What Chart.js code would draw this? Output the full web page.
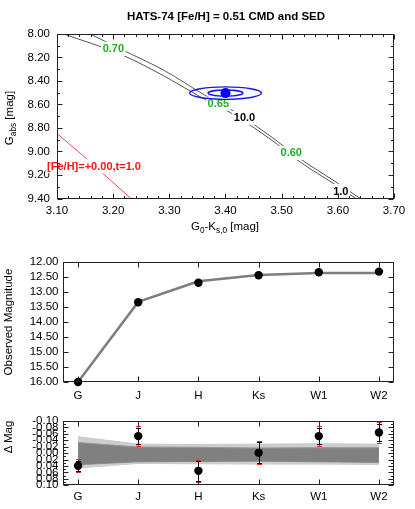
<!DOCTYPE html>
<html><head><meta charset="utf-8">
<script src="https://cdn.jsdelivr.net/npm/chart.js@4.4.1/dist/chart.umd.min.js"></script>
<style>
html,body{margin:0;padding:0;background:#fff;}
#wrap{position:relative;width:415px;height:509px;overflow:hidden;font-family:"Liberation Sans",Arial,sans-serif;color:#000;}
canvas{position:absolute;left:0;}
.t{position:absolute;white-space:nowrap;transform:translate(-50%,-50%);font-size:11.5px;line-height:1;}
.r{transform:translate(-50%,-50%) rotate(-90deg);}
sub{font-size:0.72em;vertical-align:-0.35em;line-height:0;}
</style></head><body>
<div id="wrap">
<canvas id="c1" width="415" height="240" style="top:0px"></canvas>
<canvas id="c2" width="415" height="165" style="top:240px"></canvas>
<canvas id="c3" width="415" height="104" style="top:405px"></canvas>
<div class="t" style="left:226px;top:17px;font-weight:bold;">HATS-74 [Fe/H] = 0.51 CMD and SED</div>
<div class="t" style="left:225px;top:227px;">G<sub>0</sub>-K<sub>s,0</sub> [mag]</div>
<div class="t r" style="left:10px;top:118px;">G<sub>abs</sub> [mag]</div>
<div class="t r" style="left:9px;top:322px;">Observed Magnitude</div>
<div class="t r" style="left:9px;top:437px;">Δ Mag</div>
</div>
<script>
// ---------------- DATA ----------------
// CMD panel
const cmdColorTicks = [3.10, 3.20, 3.30, 3.40, 3.50, 3.60, 3.70];
const cmdMagTicks = [8.00, 8.20, 8.40, 8.60, 8.80, 9.00, 9.20, 9.40];
const iso1Color = [3.159, 3.215, 3.292, 3.363, 3.401, 3.479, 3.533, 3.595, 3.640];
const iso1Mag   = [8.000, 8.132, 8.313, 8.520, 8.617, 8.866, 9.062, 9.255, 9.400];
const iso10Color = [3.112, 3.215, 3.292, 3.363, 3.401, 3.479, 3.533, 3.595, 3.632];
const iso10Mag   = [8.000, 8.176, 8.361, 8.556, 8.647, 8.892, 9.090, 9.281, 9.400];
const solarColor = [3.100, 3.153, 3.189, 3.232];
const solarMag   = [8.848, 9.062, 9.218, 9.400];
const starColor = [3.400];
const starMag = [8.503];
const ellipseColorHalf = [0.031, 0.064];
const ellipseMagHalf = [0.026, 0.053];
const labelTexts = ['0.70', '0.65', '10.0', '0.60', '1.0', '[Fe/H]=+0.00,t=1.0'];
const labelColor = [3.2003, 3.3872, 3.4338, 3.517, 3.6053, 3.1659];
const labelMag   = [8.126, 8.592, 8.713, 9.012, 9.336, 9.125];
const labelKinds = ['mass', 'mass', 'age', 'mass', 'age', 'solar'];

// SED panel
const filters = ['G', 'J', 'H', 'Ks', 'W1', 'W2'];
const observedMag = [16.00, 13.34, 12.69, 12.44, 12.34, 12.32];
const modelMag    = [16.00, 13.33, 12.64, 12.43, 12.37, 12.37];
const sedMagTicks = [12.00, 12.50, 13.00, 13.50, 14.00, 14.50, 15.00, 15.50, 16.00];

// Residual panel
const residual      = [0.039, -0.053, 0.055, -0.001, -0.053, -0.064];
const residErrTotal = [0.020, 0.031, 0.035, 0.036, 0.032, 0.032];
const residErrPhot  = [0.016, 0.025, 0.031, 0.033, 0.024, 0.026];
const bandOuterTop = [-0.051, -0.028, -0.027, -0.028, -0.029, -0.028];
const bandInnerTop = [-0.033, -0.019, -0.018, -0.016, -0.017, -0.017];
const bandInnerBot = [0.036, 0.027, 0.026, 0.025, 0.027, 0.029];
const bandOuterBot = [0.046, 0.032, 0.033, 0.034, 0.034, 0.035];
const residTicks = [-0.10, -0.08, -0.06, -0.04, -0.02, 0.00, 0.02, 0.04, 0.06, 0.08, 0.10];

// ---------------- HELPERS ----------------
const FONT = '"Liberation Sans", Arial, sans-serif';
Chart.defaults.font.family = FONT;
Chart.defaults.font.size = 11.5;
Chart.defaults.color = '#000';

function pts(xs, ys) { return xs.map((x, i) => ({ x: x, y: ys[i] })); }
function idxPts(ys) { return ys.map((y, i) => ({ x: i, y: y })); }
function subdiv(t, n) {
  const out = [];
  for (let i = 0; i < t.length - 1; i++)
    for (let k = 1; k < n; k++) out.push(t[i] + (t[i + 1] - t[i]) * k / n);
  return out;
}

function framePlugin(xMaj, xMin, yMaj, yMin) {
  return {
    id: 'frame',
    afterDraw(chart) {
      const { ctx, chartArea: a, scales } = chart;
      ctx.save();
      ctx.strokeStyle = '#222';
      ctx.lineWidth = 1;
      const L = Math.round(a.left) + 0.5, R = Math.round(a.right) - 0.5;
      const T = Math.round(a.top) + 0.5, B = Math.round(a.bottom) - 0.5;
      ctx.beginPath();
      const tick = (vals, len, isX) => {
        vals.forEach(v => {
          if (isX) {
            const p = Math.round(scales.x.getPixelForValue(v)) + 0.5;
            ctx.moveTo(p, B); ctx.lineTo(p, B - len);
            ctx.moveTo(p, T); ctx.lineTo(p, T + len);
          } else {
            const p = Math.round(scales.y.getPixelForValue(v)) + 0.5;
            ctx.moveTo(L, p); ctx.lineTo(L + len, p);
            ctx.moveTo(R, p); ctx.lineTo(R - len, p);
          }
        });
      };
      tick(xMaj, 5, true); tick(xMin, 2.5, true);
      tick(yMaj, 5, false); tick(yMin, 2.5, false);
      ctx.stroke();
      ctx.strokeRect(L, T, R - L, B - T);
      ctx.restore();
    }
  };
}

function baseOpts(padTop, padRight, yWidth, xHeight, xPad, yPad) {
  return {
    responsive: false, animation: false, events: [],
    layout: { padding: { left: 0, top: padTop, right: padRight, bottom: 0 } },
    plugins: { legend: { display: false }, tooltip: { enabled: false }, title: { display: false } },
    scales: {
      x: { type: 'linear', grid: { display: false, drawTicks: false, tickLength: 0 }, border: { display: false },
           afterFit: s => { s.height = xHeight; },
           ticks: { padding: xPad, autoSkip: false, maxRotation: 0 } },
      y: { type: 'linear', reverse: true, grid: { display: false, drawTicks: false, tickLength: 0 }, border: { display: false },
           afterFit: s => { s.width = yWidth; },
           ticks: { padding: yPad, autoSkip: false } }
    }
  };
}

// ---------------- CMD ----------------
const o1 = baseOpts(34, 21, 57, 41.5, 5.3, 7);
o1.scales.x.min = 3.1; o1.scales.x.max = 3.7;
o1.scales.x.afterBuildTicks = s => { s.ticks = cmdColorTicks.map(v => ({ value: v })); };
o1.scales.x.ticks.callback = v => Number(v).toFixed(2);
o1.scales.y.min = 8.0; o1.scales.y.max = 9.4;
o1.scales.y.afterBuildTicks = s => { s.ticks = cmdMagTicks.map(v => ({ value: v })); };
o1.scales.y.ticks.callback = v => Number(v).toFixed(2);

const labelStyle = { mass: 'rgb(30,175,30)', age: '#000', solar: 'rgb(255,20,20)' };

const cmdAnnot = {
  id: 'cmdAnnot',
  afterDatasetDraw(chart, args) {
    if (args.index !== 1) return;
    const { ctx, scales: { x, y } } = chart;
    ctx.save();
    ctx.font = 'bold 11px ' + FONT;
    ctx.textAlign = 'center';
    ctx.textBaseline = 'middle';
    labelTexts.forEach((t, i) => {
      const px = x.getPixelForValue(labelColor[i]);
      const py = y.getPixelForValue(labelMag[i]);
      const w = ctx.measureText(t).width;
      ctx.fillStyle = '#fff';
      ctx.fillRect(px - w / 2 - 1.5, py - 7, w + 3, 14);
      ctx.fillStyle = labelStyle[labelKinds[i]];
      ctx.fillText(t, px, py + 0.5);
    });
    // error ellipses
    const cx = x.getPixelForValue(starColor[0]);
    const cy = y.getPixelForValue(starMag[0]);
    ctx.strokeStyle = 'rgb(25,25,235)';
    ctx.lineWidth = 1.4;
    ellipseColorHalf.forEach((hx, i) => {
      const rx = Math.abs(x.getPixelForValue(starColor[0] + hx) - cx);
      const ry = Math.abs(y.getPixelForValue(starMag[0] + ellipseMagHalf[i]) - cy);
      ctx.beginPath();
      ctx.ellipse(cx, cy, rx, ry, 0, 0, Math.PI * 2);
      ctx.stroke();
    });
    ctx.restore();
  }
};

new Chart(document.getElementById('c1'), {
  type: 'scatter',
  data: { datasets: [
    { data: pts(starColor, starMag), pointRadius: 5, backgroundColor: 'rgb(0,0,255)', borderWidth: 0 },
    { data: pts(iso1Color, iso1Mag), showLine: true, pointRadius: 0, borderColor: 'rgb(85,85,85)', borderWidth: 1, cubicInterpolationMode: 'monotone' },
    { data: pts(iso10Color, iso10Mag), showLine: true, pointRadius: 0, borderColor: 'rgb(85,85,85)', borderWidth: 1, cubicInterpolationMode: 'monotone' },
    { data: pts(solarColor, solarMag), showLine: true, pointRadius: 0, borderColor: 'rgb(255,70,70)', borderWidth: 1 }
  ] },
  options: o1,
  plugins: [cmdAnnot, framePlugin(cmdColorTicks, subdiv(cmdColorTicks, 5), cmdMagTicks, subdiv(cmdMagTicks, 2))]
});

// ---------------- SED ----------------
const fIdx = filters.map((_, i) => i);
const o2 = baseOpts(22, 21, 63, 23, 6.8, 4.5);
o2.scales.x.min = -0.25; o2.scales.x.max = 5.25;
o2.scales.x.afterBuildTicks = s => { s.ticks = fIdx.map(v => ({ value: v })); };
o2.scales.x.ticks.callback = v => filters[Math.round(v)];
o2.scales.y.min = 12; o2.scales.y.max = 16;
o2.scales.y.afterBuildTicks = s => { s.ticks = sedMagTicks.map(v => ({ value: v })); };
o2.scales.y.ticks.callback = v => Number(v).toFixed(2);

new Chart(document.getElementById('c2'), {
  type: 'scatter',
  data: { datasets: [
    { data: idxPts(observedMag), pointRadius: 4.2, backgroundColor: '#000', borderWidth: 0, clip: false },
    { data: idxPts(modelMag), showLine: true, pointRadius: 0, borderColor: 'rgb(125,125,125)', borderWidth: 2.5 }
  ] },
  options: o2,
  plugins: [framePlugin(fIdx, [], sedMagTicks, [])]
});

// ---------------- RESIDUALS ----------------
const o3 = baseOpts(16, 21, 63, 23.7, 4.8, 4.5);
o3.scales.x.min = -0.25; o3.scales.x.max = 5.25;
o3.scales.x.afterBuildTicks = s => { s.ticks = fIdx.map(v => ({ value: v })); };
o3.scales.x.ticks.callback = v => filters[Math.round(v)];
o3.scales.y.min = -0.1; o3.scales.y.max = 0.1;
o3.scales.y.afterBuildTicks = s => { s.ticks = residTicks.map(v => ({ value: v })); };
o3.scales.y.ticks.callback = v => (Math.abs(v) < 1e-9 ? 0 : Number(v)).toFixed(2);

const errBars = {
  id: 'errBars',
  afterDatasetDraw(chart, args) {
    if (args.index !== 1) return;
    const { ctx, scales: { x, y } } = chart;
    ctx.save();
    ctx.lineWidth = 1;
    const draw = (errs, color, cap) => {
      ctx.strokeStyle = color;
      ctx.beginPath();
      residual.forEach((r, i) => {
        const px = Math.round(x.getPixelForValue(i)) + 0.5;
        const y1 = y.getPixelForValue(r - errs[i]);
        const y2 = y.getPixelForValue(r + errs[i]);
        ctx.moveTo(px, y1); ctx.lineTo(px, y2);
        ctx.moveTo(px - cap, Math.round(y1) + 0.5); ctx.lineTo(px + cap, Math.round(y1) + 0.5);
        ctx.moveTo(px - cap, Math.round(y2) + 0.5); ctx.lineTo(px + cap, Math.round(y2) + 0.5);
      });
      ctx.stroke();
    };
    draw(residErrTotal, 'rgb(255,30,30)', 2.5);
    draw(residErrPhot, '#000', 2.5);
    ctx.restore();
  }
};

new Chart(document.getElementById('c3'), {
  type: 'scatter',
  data: { datasets: [
    { data: idxPts(residual), pointRadius: 4.2, backgroundColor: '#000', borderWidth: 0, clip: false },
    { data: idxPts(bandInnerTop), showLine: true, pointRadius: 0, borderWidth: 1, borderColor: 'rgb(150,150,150)', fill: 2, backgroundColor: 'rgb(128,128,128)' },
    { data: idxPts(bandInnerBot), showLine: true, pointRadius: 0, borderWidth: 1, borderColor: 'rgb(150,150,150)' },
    { data: idxPts(bandOuterTop), showLine: true, pointRadius: 0, borderWidth: 1, borderColor: 'rgb(200,200,200)', fill: 4, backgroundColor: 'rgb(205,205,205)' },
    { data: idxPts(bandOuterBot), showLine: true, pointRadius: 0, borderWidth: 1, borderColor: 'rgb(200,200,200)' }
  ] },
  options: o3,
  plugins: [errBars, framePlugin(fIdx, [], residTicks, subdiv(residTicks, 2))]
});
</script>
</body></html>
